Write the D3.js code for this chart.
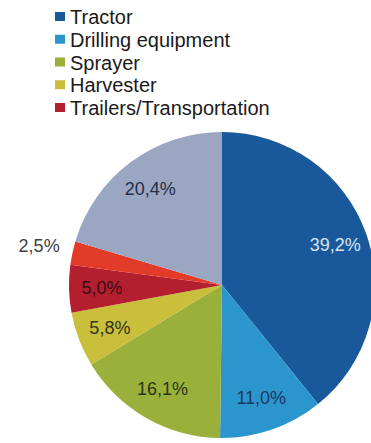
<!DOCTYPE html>
<html>
<head>
<meta charset="utf-8">
<script src="https://cdn.jsdelivr.net/npm/d3@7"></script>
<style>
  html, body { margin: 0; padding: 0; background: #ffffff; }
  svg { display: block; }
  text { font-family: "Liberation Sans", Arial, sans-serif; }
</style>
</head>
<body>
<svg id="chart" width="371" height="443"></svg>
<script>
// Data
const categories = ["Tractor", "Drilling equipment", "Sprayer", "Harvester", "Trailers/Transportation", "Other (2,5%)", "Other (20,4%)"];
const values = [39.2, 11.0, 16.1, 5.8, 5.0, 2.5, 20.4];
const valueLabels = ["39,2%", "11,0%", "16,1%", "5,8%", "5,0%", "2,5%", "20,4%"];
const legendCategories = ["Tractor", "Drilling equipment", "Sprayer", "Harvester", "Trailers/Transportation"];
const colors = ["#19599b", "#2b96cd", "#9bb03a", "#c9bf3b", "#b41f30", "#e33b29", "#9ba6c3"];
const labelColors = ["#d6e4f2", "#1d3660", "#2a3418", "#34341a", "#3a0b12", "#404040", "#262f48"];

const svg = d3.select("#chart");
const W = 371, H = 443;
const cx = 222, cy = 285, R = 153;

const data = categories.map((c, i) => ({ name: c, value: values[i], label: valueLabels[i], i }));

const pie = d3.pie().sort(null).value(d => d.value);
const arcs = pie(data);
const arc = d3.arc().innerRadius(0).outerRadius(R);
const labelArc = d3.arc().innerRadius(120).outerRadius(120);
const outerLabelArc = d3.arc().innerRadius(187).outerRadius(187);

const color = d3.scaleOrdinal().domain(categories).range(colors);

const g = svg.append("g").attr("transform", `translate(${cx},${cy})`);
g.selectAll("path.slice")
  .data(arcs)
  .join("path")
  .attr("class", "slice")
  .attr("d", arc)
  .attr("fill", d => color(d.data.name));

g.selectAll("text.val")
  .data(arcs)
  .join("text")
  .attr("class", "val")
  .attr("transform", d => {
    const c = (d.data.value < 3 ? outerLabelArc : labelArc).centroid(d);
    return `translate(${c[0]},${c[1]})`;
  })
  .attr("text-anchor", "middle")
  .attr("dominant-baseline", "central")
  .attr("font-size", 18)
  .attr("fill", d => labelColors[d.data.i])
  .text(d => d.data.label);

// Legend
const legendY = d3.scalePoint().domain(legendCategories).range([17, 108]);
const lg = svg.append("g");
const items = lg.selectAll("g.item")
  .data(legendCategories)
  .join("g")
  .attr("class", "item")
  .attr("transform", d => `translate(0,${legendY(d)})`);
items.append("rect")
  .attr("x", 55).attr("y", -5)
  .attr("width", 10).attr("height", 9)
  .attr("fill", d => color(d));
items.append("text")
  .attr("x", 70)
  .attr("y", 0)
  .attr("dominant-baseline", "central")
  .attr("font-size", 20)
  .attr("fill", "#1a1a1a")
  .text(d => d);
</script>
</body>
</html>
